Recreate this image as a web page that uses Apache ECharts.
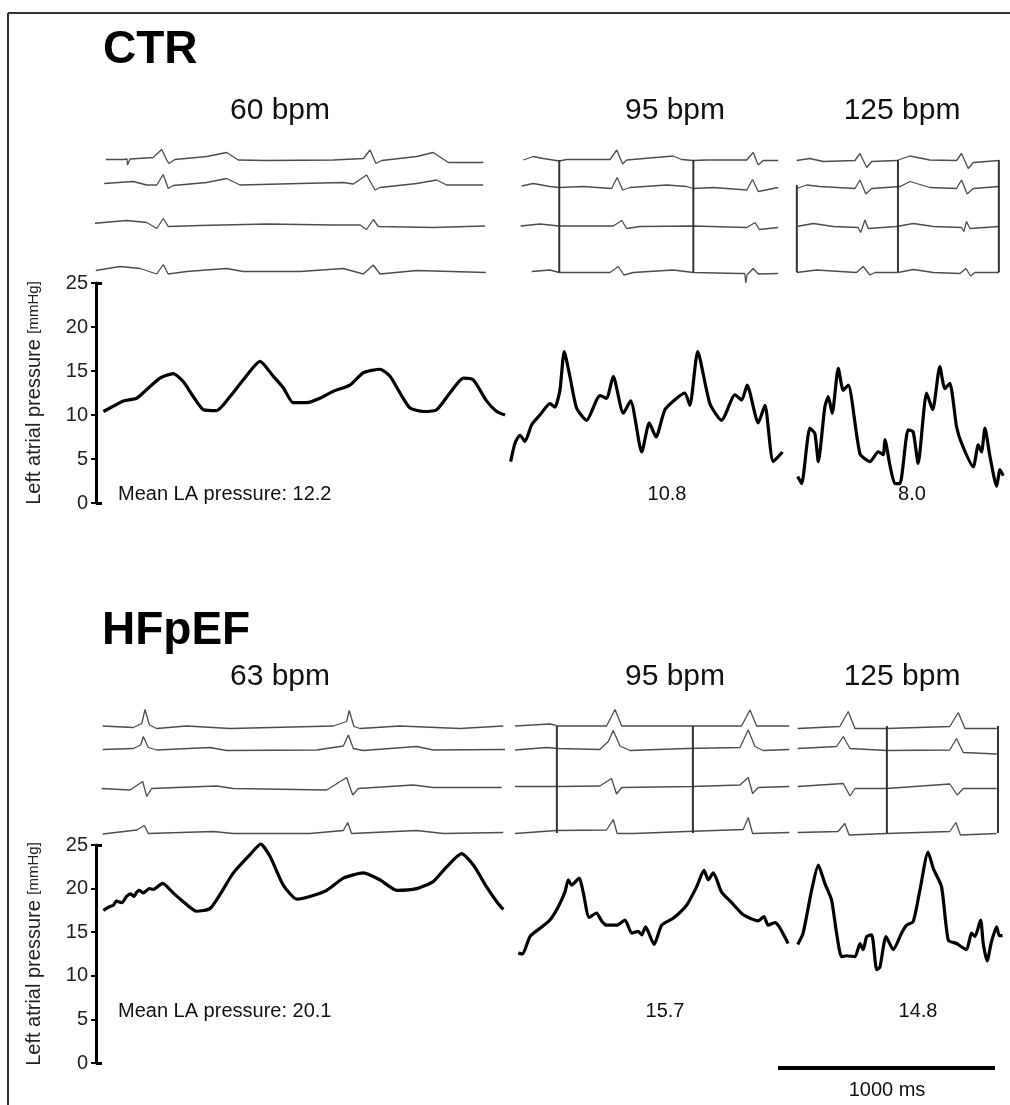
<!DOCTYPE html>
<html>
<head>
<meta charset="utf-8">
<script src="https://cdn.jsdelivr.net/npm/echarts@6/dist/echarts.min.js"></script>
<style>
html,body{margin:0;padding:0;background:#fff}
#main{width:1010px;height:1105px}
</style>
</head>
<body>
<div id="main"></div>
<script>
// time axis in ms, shared by all rows (so the 1000 ms bar fits the traces)
const T_MAX = 4194;

// left atrial pressure [mmHg] as [ms, value]
const ctrLA60 = [[34,10.4],[80,11.0],[126,11.6],[187,11.9],[234,12.9],[295,14.2],[356,14.7],[402,13.8],[448,12.1],[495,10.6],[556,10.5],[618,12.1],[679,14.0],[756,16.1],[817,14.4],[863,13.1],[909,11.4],[971,11.4],[1032,11.9],[1094,12.7],[1170,13.4],[1232,14.8],[1309,15.2],[1355,14.4],[1401,12.5],[1447,10.8],[1508,10.4],[1570,10.6],[1631,12.5],[1693,14.2],[1739,14.0],[1800,11.6],[1847,10.4],[1885,10.0]];
const ctrLA95 = [[1911,4.7],[1931,6.8],[1954,7.7],[1977,7.0],[2008,8.9],[2046,10.0],[2092,11.3],[2115,10.9],[2138,12.8],[2158,17.2],[2184,14.4],[2215,10.8],[2261,9.4],[2307,11.7],[2323,12.2],[2353,11.9],[2384,14.4],[2430,10.2],[2464,11.6],[2515,5.8],[2550,9.1],[2581,7.5],[2622,10.6],[2676,11.9],[2714,12.5],[2737,11.1],[2773,17.2],[2829,11.3],[2883,9.4],[2945,12.3],[2976,11.7],[3001,13.4],[3052,9.1],[3083,11.1],[3121,4.7],[3164,5.8]];
const ctrLA125 = [[3234,3.0],[3252,2.2],[3290,8.5],[3313,7.9],[3329,4.7],[3359,10.9],[3375,12.1],[3393,10.2],[3421,15.3],[3444,12.8],[3467,13.4],[3521,5.6],[3567,4.7],[3605,5.8],[3628,5.5],[3636,7.2],[3659,4.3],[3682,2.2],[3705,2.2],[3743,8.3],[3766,8.1],[3789,4.5],[3828,12.5],[3856,10.6],[3889,15.5],[3912,13.0],[3935,13.6],[3966,8.7],[3989,6.8],[4043,4.1],[4066,6.6],[4081,5.8],[4097,8.5],[4120,5.3],[4151,1.9],[4166,3.8],[4181,3.1]];
const hfLA63 = [[34,17.5],[60,17.9],[80,18.1],[95,18.6],[103,18.5],[120,18.4],[141,19.1],[160,19.4],[175,19.1],[188,19.6],[200,19.8],[218,19.5],[245,20.0],[264,19.9],[307,20.6],[356,19.5],[402,18.5],[464,17.4],[525,17.7],[571,19.3],[633,21.8],[710,23.9],[759,25.1],[802,23.7],[863,20.4],[925,18.8],[986,19.1],[1063,19.8],[1140,21.2],[1232,21.8],[1309,21.0],[1386,19.8],[1478,20.0],[1554,20.8],[1616,22.5],[1685,24.0],[1739,22.7],[1800,20.2],[1847,18.5],[1877,17.6]];
const hfLA95 = [[1946,12.6],[1966,12.5],[2000,14.5],[2054,15.6],[2092,16.4],[2130,17.9],[2161,19.6],[2177,21.0],[2192,20.4],[2227,21.2],[2246,19.5],[2273,16.7],[2307,17.2],[2330,16.3],[2353,15.8],[2400,15.8],[2438,16.4],[2469,14.9],[2499,15.1],[2515,14.7],[2533,15.6],[2572,13.6],[2607,15.8],[2660,16.6],[2722,18.1],[2768,20.2],[2802,22.1],[2822,21.0],[2845,21.8],[2883,19.6],[2922,18.6],[2983,17.0],[3052,16.3],[3078,16.8],[3098,15.8],[3129,16.1],[3149,15.6],[3190,13.7]];
const hfLA125 = [[3234,13.6],[3259,14.9],[3298,19.8],[3329,22.7],[3359,20.6],[3390,18.7],[3413,14.9],[3436,12.2],[3459,12.3],[3498,12.2],[3521,13.7],[3536,13.0],[3552,14.5],[3575,14.7],[3598,10.7],[3613,11.0],[3641,14.5],[3674,13.0],[3713,14.9],[3736,15.8],[3766,16.2],[3797,19.8],[3835,24.2],[3859,22.3],[3897,20.2],[3928,14.1],[3966,13.7],[4012,13.0],[4035,14.9],[4051,14.5],[4077,16.4],[4089,13.7],[4107,11.7],[4127,13.9],[4151,15.6],[4163,14.6],[4178,14.6]];

const ctrRates = [60, 95, 125];
const hfRates = [63, 95, 125];
const ctrMean = ['12.2', '10.8', '8.0'];
const hfMean = ['20.1', '15.7', '14.8'];

// ECG, 4 leads per segment, [ms, amplitude (a.u., up = positive)]
const ctrEcg60 = [
  [[46,0.5],[126,0.5],[143,1],[145,-5],[152,-4],[157,1],[263,2.5],[303,10.5],[326,0],[336,-3.5],[364,0.5],[510,3.5],[602,7.5],[656,0],[787,-0.5],[1094,0],[1232,1.5],[1263,10],[1290,-3.5],[1317,-0.5],[1478,3.5],[1554,7.5],[1624,-2.5],[1785,-2.5]],
  [[38,1.5],[172,3.5],[234,0],[280,0],[310,10.5],[333,-3.5],[356,-0.5],[510,2.5],[602,6.5],[664,0],[940,1.5],[1140,2.5],[1186,1],[1247,10],[1286,-5],[1309,-2.5],[1478,1.5],[1570,5],[1616,0],[1785,0]],
  [[-17,2.5],[141,5.5],[234,3.5],[280,-2.5],[310,7.5],[333,-0.5],[479,0.5],[787,2],[1094,1],[1217,1],[1247,-3.5],[1278,6.5],[1301,-0.5],[1554,-1.5],[1793,0]],
  [[-1,1.5],[111,5.5],[203,3.5],[280,-2],[310,7.5],[333,-2],[418,0.5],[602,3.5],[679,0.5],[940,0.5],[1140,3.5],[1232,-2],[1278,7],[1309,-2],[1478,1.5],[1797,-0.5]]
];
const ctrEcg95 = [
  [[1969,0],[2015,3.5],[2061,1.5],[2135,-1],[2169,0.5],[2369,0.5],[2400,10],[2427,-4],[2446,0],[2660,4],[2699,0.5],[2753,-0.5],[2814,0],[2999,0],[3029,7.5],[3052,-5],[3075,-0.5],[3144,-0.5]],
  [[1962,-1],[2015,1.5],[2092,-1.5],[2135,-2.5],[2246,-1.5],[2376,-3.5],[2402,7.5],[2427,-5],[2461,-2.5],[2630,0],[2722,-1.5],[2753,-3.5],[2845,-2.5],[2999,-5],[3026,5.5],[3052,-6.5],[3144,-2.5]],
  [[1957,0],[2046,2],[2135,0],[2384,0],[2423,5.5],[2446,-2.5],[2507,-0.5],[2753,0],[2999,-1.5],[3038,3.5],[3057,-3.5],[3144,-1.5]],
  [[2008,0.5],[2092,2],[2135,-0.5],[2369,-0.5],[2407,5.5],[2433,-3],[2476,-0.5],[2660,2],[2753,-0.5],[2968,-1.5],[2990,-1.5],[2995,-11],[3000,-3],[3029,3.5],[3052,-2],[3144,-1.5]]
];
const ctrEcg125 = [
  [[3229,-0.5],[3290,1.5],[3352,-1.5],[3498,-0.5],[3521,6.5],[3552,-7.5],[3575,-1.5],[3690,-0.5],[3751,4],[3843,0],[3966,-0.5],[3989,6.5],[4020,-8.5],[4043,-2.5],[4163,-0.5]],
  [[3229,-3.5],[3275,0],[3336,-1.5],[3498,-3.5],[3521,5],[3548,-9],[3575,-3.5],[3707,-1.5],[3751,3.5],[3843,-2.5],[3966,-3.5],[3989,5],[4015,-9],[4043,-3.5],[4163,-1.5]],
  [[3229,-0.5],[3306,2.5],[3398,-0.5],[3513,-1.5],[3524,-6.5],[3544,6],[3559,-2.5],[3690,-0.5],[3767,2.5],[3859,-0.5],[3989,-1.5],[4000,-5.5],[4012,4.5],[4028,-2.5],[4163,-0.5]],
  [[3229,-0.5],[3321,2],[3505,-0.5],[3536,5.5],[3567,-3],[3590,-0.5],[3697,-0.5],[3767,2.5],[3859,-0.5],[3982,-1.5],[4009,3.5],[4031,-4],[4051,-0.5],[4163,-0.5]]
];
const hfEcg63 = [
  [[31,0],[172,-1.5],[211,2.5],[226,16.5],[246,1],[280,-2.5],[418,0],[618,-2.5],[1094,0],[1155,4.5],[1167,15.5],[1189,-0.5],[1217,-2.5],[1400,0],[1677,-2.5],[1877,0]],
  [[31,-0.5],[172,0.5],[206,4],[218,12.5],[241,1.5],[280,-1],[525,1.5],[602,-1.5],[1017,-1],[1140,3],[1163,14],[1186,0.5],[1232,-1.5],[1478,2.5],[1554,-1],[1885,-0.5]],
  [[26,-1.5],[157,-3],[215,5.5],[234,-9.5],[256,-1.5],[556,1],[633,-1.5],[1063,-3],[1155,9.5],[1183,-8],[1209,-1.5],[1462,2],[1554,-0.5],[1870,-0.5]],
  [[31,-1],[188,3],[223,7.5],[241,-0.5],[541,1.5],[633,-0.5],[986,-0.5],[1140,2.5],[1160,10.5],[1178,-0.5],[1478,2.5],[1601,-0.5],[1877,0.5]]
];
const hfEcg95 = [
  [[1931,0],[2092,2],[2115,1],[2130,0],[2353,0],[2392,16.5],[2423,0],[2737,0],[2975,0],[3014,16],[3045,0],[3195,0]],
  [[1931,-1],[2077,1.5],[2130,0.5],[2322,-0.5],[2361,7.5],[2384,18.5],[2415,3],[2461,-1.5],[2722,0.5],[2968,1.5],[3006,19],[3037,2.5],[3075,-1.5],[3195,-0.5]],
  [[1931,0.5],[2130,0.5],[2322,1],[2376,8.5],[2399,-7],[2423,-0.5],[2746,0.5],[2968,2],[3006,9.5],[3026,-6.5],[3052,-0.5],[3195,0.5]],
  [[1931,-0.5],[2123,2.5],[2353,3],[2384,13.5],[2402,-0.5],[2476,-0.5],[2722,1.5],[2983,3.5],[3006,15.5],[3026,-0.5],[3195,0.5]]
];
const hfEcg125 = [
  [[3234,-2.5],[3428,-0.5],[3467,14.5],[3498,-2.5],[3644,-2.5],[3935,-0.5],[3974,13.5],[4005,-2.5],[4151,-2.5]],
  [[3234,0.5],[3413,2.5],[3444,12.5],[3475,0.5],[3644,-1.5],[3935,-1],[3966,10.5],[3997,-3.5],[4151,-5]],
  [[3234,0.5],[3444,3.5],[3475,-9],[3498,-1.5],[3644,-1.5],[3935,3],[3969,-8],[3997,-1.5],[4151,-1.5]],
  [[3234,0.5],[3420,1.5],[3451,9.5],[3471,-2],[3644,-0.5],[3935,1.5],[3963,10.5],[3984,-2],[4151,-0.5]]
];

// pacing stimulus artefacts [ms], and the lead they start from
const ctrStim = [2135, 2753, 3230, 3696, 4161];
const ctrStimTop = [0, 0, 1, 0, 0];
const hfStim = [2124, 2751, 3645, 4157];
const hfStimTop = [0, 0, 0, 0];
const scaleBar = [3143, 4143]; // 1000 ms

// layout
const FONT = '"Liberation Sans", Arial, sans-serif';
const ctrBase = [130, 105, 64, 18];   // lead baselines inside the ECG grid
const hfBase = [124, 101, 63, 17];
const rateX = [280, 675, 902];
const ctrMeanX = [118, 667, 912];
const hfMeanX = [118, 665, 918];

const chart = echarts.init(document.getElementById('main'));

function laAxes(g) {
  return [{
    gridIndex: g, type: 'value', min: 0, max: 25, interval: 5, position: 'left',
    name: '{a|Left atrial pressure }{b|[mmHg]}', nameLocation: 'middle', nameGap: 52,
    nameTextStyle: {rich: {
      a: {fontSize: 20, fontFamily: FONT, color: '#222'},
      b: {fontSize: 15, fontFamily: FONT, color: '#222'}
    }},
    axisLine: {show: true, lineStyle: {color: '#000', width: 3}},
    axisTick: {show: true, inside: false, length: 5, lineStyle: {color: '#000', width: 2}},
    axisLabel: {fontSize: 20, fontFamily: FONT, color: '#222', margin: 8},
    splitLine: {show: false}
  }, {
    gridIndex: g, type: 'value', min: 0, max: 25, interval: 25, position: 'left',
    axisLine: {show: false},
    axisTick: {show: true, inside: true, length: 6, lineStyle: {color: '#000', width: 3}},
    axisLabel: {show: false}, splitLine: {show: false}
  }];
}

function laLine(data, xi, yi) {
  return {type: 'line', xAxisIndex: xi, yAxisIndex: yi, data: data, symbol: 'none',
    clip: false, smooth: 0.2, lineStyle: {color: '#000', width: 3.2, join: 'round'}};
}

function ecgLines(leads, base, xi, yi) {
  return leads.map((pts, i) => ({
    type: 'line', xAxisIndex: xi, yAxisIndex: yi, symbol: 'none', clip: false,
    data: pts.map(p => [p[0], base[i] + p[1]]),
    lineStyle: {color: '#4d4d4d', width: 1.3}
  }));
}

function stimLines(times, tops, base, xi, yi) {
  return times.map((t, i) => ({
    type: 'line', xAxisIndex: xi, yAxisIndex: yi, symbol: 'none', clip: false,
    data: [[t, base[3]], [t, base[tops[i]]]],
    lineStyle: {color: '#333', width: 2}
  }));
}

function txt(text, x, y, size, opts) {
  return Object.assign({
    text: text, left: x, top: y, padding: 0, textAlign: 'center', textVerticalAlign: 'middle',
    textStyle: {fontSize: size, fontFamily: FONT, color: '#111', fontWeight: 'normal'}
  }, opts || {});
}

const bold = {fontSize: 46, fontFamily: FONT, color: '#000', fontWeight: 'bold'};
const titles = [
  txt('CTR', 103, 50, 46, {textAlign: 'left', textStyle: bold}),
  txt('HFpEF', 102, 631, 46, {textAlign: 'left', textStyle: bold}),
  txt('1000 ms', 887, 1090, 20)
];
ctrRates.forEach((r, i) => titles.push(txt(r + ' bpm', rateX[i], 111, 30)));
hfRates.forEach((r, i) => titles.push(txt(r + ' bpm', rateX[i], 677, 30)));
ctrMean.forEach((m, i) => titles.push(i === 0
  ? txt('Mean LA pressure: ' + m, ctrMeanX[i], 494, 20, {textAlign: 'left'})
  : txt(m, ctrMeanX[i], 494, 20)));
hfMean.forEach((m, i) => titles.push(i === 0
  ? txt('Mean LA pressure: ' + m, hfMeanX[i], 1011, 20, {textAlign: 'left'})
  : txt(m, hfMeanX[i], 1011, 20)));

const xAx = g => ({gridIndex: g, type: 'value', min: 0, max: T_MAX, show: false});
const hidY = (g, mn, mx) => ({gridIndex: g, type: 'value', min: mn, max: mx, show: false});

const ctrLaY = laAxes(1), hfLaY = laAxes(3);

const option = {
  animation: false,
  backgroundColor: '#fff',
  title: titles,
  graphic: [
    {type: 'line', shape: {x1: 8, y1: 13, x2: 1010, y2: 13}, style: {stroke: '#333', lineWidth: 2}},
    {type: 'line', shape: {x1: 8, y1: 13, x2: 8, y2: 1105}, style: {stroke: '#333', lineWidth: 2}}
  ],
  grid: [
    {left: 96, width: 910, top: 130, height: 160},   // CTR ECG
    {left: 96, width: 910, top: 283, height: 220},   // CTR LA pressure
    {left: 96, width: 910, top: 690, height: 160},   // HFpEF ECG
    {left: 96, width: 910, top: 845, height: 218},   // HFpEF LA pressure
    {left: 96, width: 910, top: 1060, height: 16}    // scale bar
  ],
  xAxis: [xAx(0), xAx(1), xAx(2), xAx(3), xAx(4)],
  yAxis: [hidY(0, 0, 160), ctrLaY[0], ctrLaY[1], hidY(2, 0, 160), hfLaY[0], hfLaY[1], hidY(4, -1, 1)],
  series: [].concat(
    ecgLines(ctrEcg60, ctrBase, 0, 0), ecgLines(ctrEcg95, ctrBase, 0, 0), ecgLines(ctrEcg125, ctrBase, 0, 0),
    stimLines(ctrStim, ctrStimTop, ctrBase, 0, 0),
    [laLine(ctrLA60, 1, 1), laLine(ctrLA95, 1, 1), laLine(ctrLA125, 1, 1)],
    ecgLines(hfEcg63, hfBase, 2, 3), ecgLines(hfEcg95, hfBase, 2, 3), ecgLines(hfEcg125, hfBase, 2, 3),
    stimLines(hfStim, hfStimTop, hfBase, 2, 3),
    [laLine(hfLA63, 3, 4), laLine(hfLA95, 3, 4), laLine(hfLA125, 3, 4)],
    [{type: 'line', xAxisIndex: 4, yAxisIndex: 6, symbol: 'none',
      data: [[scaleBar[0], 0], [scaleBar[1], 0]], lineStyle: {color: '#000', width: 4}}]
  )
};
chart.setOption(option);
</script>
</body>
</html>
